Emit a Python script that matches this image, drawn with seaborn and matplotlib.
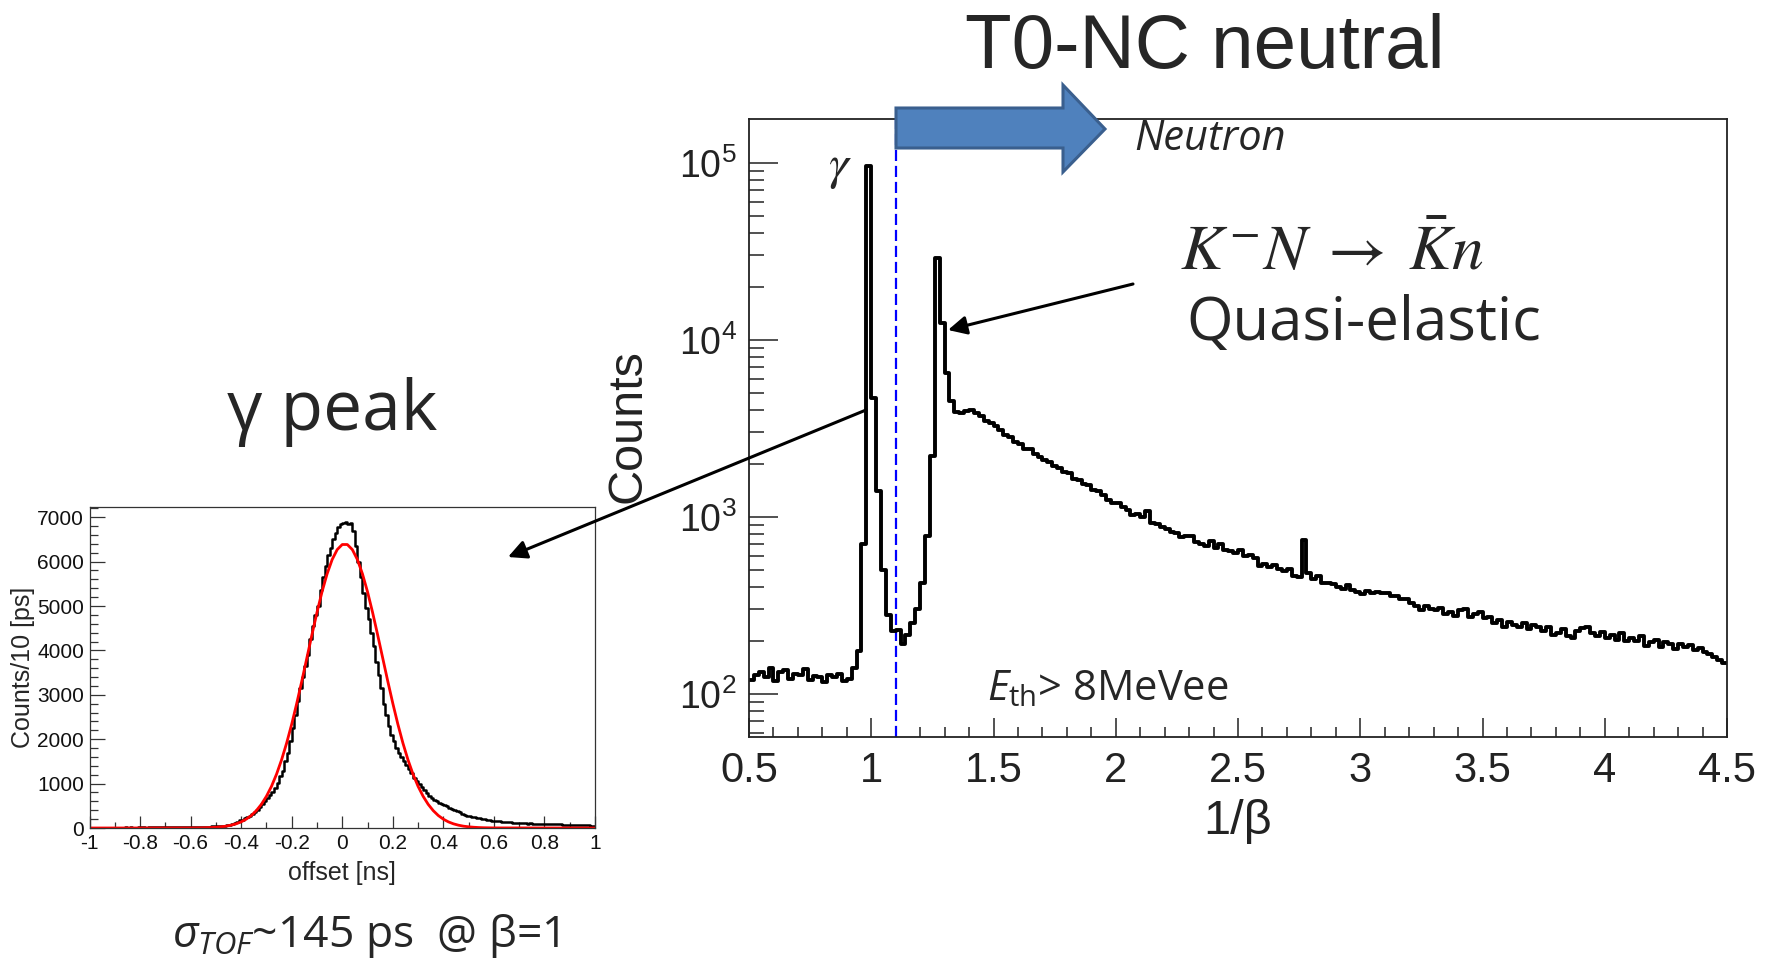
import numpy as np
import pandas as pd
import matplotlib
matplotlib.use("Agg")
import matplotlib.pyplot as plt
import seaborn as sns
from matplotlib.patches import Polygon
from matplotlib.ticker import MultipleLocator, LogLocator, NullFormatter, FuncFormatter

# ---------------- data ----------------
# 1/beta histogram (T0-NC neutral), bins of 0.02 from 0.5 to 4.5
inv_beta_range = (0.5, 4.5)
inv_beta_counts = [
    120, 128, 132, 125, 140, 118, 132, 136, 122, 130,
    128, 138, 120, 126, 124, 116, 128, 124, 130, 118,
    122, 140, 175, 700, 96000, 4700, 1400, 500, 280, 225,
    230, 190, 215, 250, 300, 420, 780, 2200, 29000, 12500,
    6500, 4500, 3900, 3850, 3950, 4000, 3850, 3700, 3500, 3400,
    3250, 3080, 2900, 2830, 2650, 2580, 2430, 2420, 2250, 2180,
    2100, 2030, 1930, 1880, 1790, 1770, 1640, 1620, 1530, 1520,
    1420, 1400, 1330, 1250, 1200, 1190, 1140, 1090, 1030, 1040,
    995, 1080, 925, 910, 880, 855, 820, 815, 770, 775,
    775, 725, 705, 680, 730, 665, 700, 650, 645, 625,
    648, 600, 608, 585, 530, 540, 520, 535, 510, 495,
    505, 465, 455, 740, 480, 445, 462, 425, 425, 418,
    400, 392, 412, 384, 376, 365, 382, 370, 376, 370,
    372, 356, 358, 342, 344, 326, 314, 298, 312, 300,
    298, 306, 282, 290, 276, 296, 300, 270, 282, 288,
    268, 272, 250, 262, 240, 255, 244, 238, 250, 232,
    246, 238, 226, 240, 214, 222, 232, 212, 208, 226,
    234, 238, 222, 212, 224, 206, 214, 202, 220, 198,
    206, 198, 212, 186, 196, 202, 184, 196, 190, 178,
    190, 184, 188, 176, 182, 172, 168, 162, 156, 150,
]
beta_cut = 1.1

# gamma-peak offset histogram, bins of 10 ps from -1 to 1 ns
offset_range = (-1.0, 1.0)
offset_counts = [
    5, 8, 6, 4, 7, 9, 6, 8, 5, 10,
    8, 11, 7, 9, 12, 10, 13, 9, 11, 14,
    12, 15, 11, 14, 16, 13, 17, 15, 18, 14,
    18, 16, 20, 17, 22, 19, 21, 24, 20, 23,
    25, 22, 27, 26, 30, 28, 32, 30, 34, 36,
    40, 45, 50, 55, 65, 75, 95, 115, 140, 170,
    190, 215, 240, 275, 310, 360, 410, 470, 540, 610,
    680, 740, 820, 910, 1020, 1160, 1290, 1500, 1700, 1950,
    2250, 2550, 2850, 3150, 3400, 3650, 3900, 4250, 4550, 4800,
    5000, 5350, 5650, 5900, 6150, 6300, 6500, 6650, 6780, 6850,
    6880, 6900, 6850, 6870, 6700, 6350, 6000, 5650, 5300, 4950,
    4700, 4400, 4100, 3750, 3450, 3150, 2800, 2550, 2300, 2100,
    1950, 1800, 1700, 1600, 1500, 1420, 1330, 1230, 1130, 1060,
    1000, 920, 850, 790, 720, 675, 640, 600, 570, 540,
    520, 490, 460, 430, 400, 375, 350, 320, 300, 280,
    265, 250, 240, 225, 215, 205, 195, 185, 175, 168,
    160, 155, 148, 140, 135, 130, 125, 120, 115, 112,
    108, 110, 105, 100, 102, 98, 96, 100, 95, 92,
    95, 90, 88, 85, 82, 85, 80, 78, 75, 78,
    72, 75, 70, 68, 65, 62, 60, 58, 55, 52,
]

# red fit curve
fit_x = [-1.0] + [round(v, 2) for v in np.linspace(-0.6, 0.6, 61)] + [1.0]
fit_y = [0,
         1, 2, 4, 6, 10, 17, 27, 41, 63, 94,
         138, 199, 281, 391, 533, 714, 938, 1212, 1537, 1913,
         2339, 2808, 3309, 3830, 4351, 4856, 5320, 5723, 6045, 6270,
         6385,
         6385, 6270, 6045, 5723, 5320, 4856, 4351, 3830, 3309, 2808,
         2339, 1913, 1537, 1212, 938, 714, 533, 391, 281, 199,
         138, 94, 63, 41, 27, 17, 10, 6, 4, 2,
         0]

# ---------------- style ----------------
sns.set_theme(style="ticks")
plt.rcParams['font.family'] = ['Liberation Sans', 'DejaVu Sans']
plt.rcParams['axes.unicode_minus'] = False
plt.rcParams['mathtext.fontset'] = 'custom'
plt.rcParams['mathtext.rm'] = 'Open Sans'
plt.rcParams['mathtext.it'] = 'Open Sans:italic'
plt.rcParams['mathtext.bf'] = 'Open Sans:bold'

W, H = 1773, 960
fig = plt.figure(figsize=(W / 100, H / 100), dpi=100)
fig.patch.set_facecolor('white')


def frac(l, t, r, b):
    return [l / W, 1 - b / H, (r - l) / W, (b - t) / H]


gfmt = FuncFormatter(lambda v, p: '{:g}'.format(round(v, 2) + 0.0))

# ---------------- right panel ----------------
axR = fig.add_axes(frac(749, 119, 1727, 737))
nR = len(inv_beta_counts)
edgesR = np.linspace(inv_beta_range[0], inv_beta_range[1], nR + 1)
dfR = pd.DataFrame({'x': 0.5 * (edgesR[:-1] + edgesR[1:]),
                    'w': np.asarray(inv_beta_counts, dtype=float)})
sns.histplot(data=dfR, x='x', weights='w', bins=nR, binrange=inv_beta_range,
             element='step', fill=False, color='black', linewidth=2.8, ax=axR)
axR.set_yscale('log')
axR.set_xlim(*inv_beta_range)
axR.set_ylim(57, 177000)
axR.axvline(beta_cut, color='#0000FF', linestyle=(0, (5, 2.2)), linewidth=1.6, zorder=1)
axR.yaxis.set_major_locator(LogLocator(base=10, numticks=10))
axR.yaxis.set_minor_locator(LogLocator(base=10, subs=np.arange(2, 10), numticks=20))
axR.yaxis.set_minor_formatter(NullFormatter())
axR.xaxis.set_major_locator(MultipleLocator(0.5))
axR.xaxis.set_minor_locator(MultipleLocator(0.1))
axR.xaxis.set_major_formatter(gfmt)
axR.tick_params(axis='y', which='major', direction='in', length=21, width=1.1,
                labelsize=27, pad=9, colors='#222222', labelcolor='#222222')
axR.tick_params(axis='y', which='minor', direction='in', length=10.5, width=1.1, color='#222222')
axR.tick_params(axis='x', which='major', direction='in', length=14, width=1.1,
                labelsize=30, pad=10, color='#222222', labelcolor='#222222')
axR.tick_params(axis='x', which='minor', direction='in', length=7, width=1.1, color='#222222')
for s in axR.spines.values():
    s.set_linewidth(1.3)
    s.set_color('#222222')
axR.set_ylabel('Counts', fontsize=35, va='center', ha='center', color='#222222')
axR.yaxis.set_label_coords(-0.124, 0.503)
axR.set_xlabel('1/β', fontsize=35, va='center', ha='center', color='#222222')
axR.xaxis.set_label_coords(0.5, -0.1375)

# ---------------- left panel ----------------
axL = fig.add_axes(frac(89.5, 507, 595, 828))
nL = len(offset_counts)
edgesL = np.linspace(offset_range[0], offset_range[1], nL + 1)
dfL = pd.DataFrame({'x': 0.5 * (edgesL[:-1] + edgesL[1:]),
                    'w': np.asarray(offset_counts, dtype=float)})
sns.histplot(data=dfL, x='x', weights='w', bins=nL, binrange=offset_range,
             element='step', fill=False, color='black', linewidth=1.8, ax=axL)
dfFit = pd.DataFrame({'x': fit_x, 'y': fit_y})
sns.lineplot(data=dfFit, x='x', y='y', color='#FF0000', linewidth=2.0, ax=axL)
axL.set_xlim(*offset_range)
axL.set_ylim(0, 7230)
axL.xaxis.set_major_locator(MultipleLocator(0.2))
axL.xaxis.set_minor_locator(MultipleLocator(0.1))
axL.xaxis.set_major_formatter(gfmt)
axL.yaxis.set_major_locator(MultipleLocator(1000))
axL.yaxis.set_minor_locator(MultipleLocator(200))
axL.tick_params(axis='both', which='major', direction='in', labelsize=15, width=0.9,
                color='#333333', labelcolor='#111111')
axL.tick_params(axis='y', which='major', length=11, pad=4)
axL.tick_params(axis='y', which='minor', direction='in', length=5.5, width=0.9, color='#333333')
axL.tick_params(axis='x', which='major', length=9, pad=4)
axL.tick_params(axis='x', which='minor', direction='in', length=4.5, width=0.9, color='#333333')
for s in axL.spines.values():
    s.set_linewidth(0.9)
    s.set_color('#333333')
axL.set_ylabel('Counts/10 [ps]', fontsize=18, va='center', ha='center')
axL.yaxis.set_label_coords(-0.1316, 0.5016)
axL.set_xlabel('offset [ns]', fontsize=18, va='center', ha='center')
axL.xaxis.set_label_coords(0.4995, -0.14)

# ---------------- overlay annotations (pixel coordinates) ----------------
ov = fig.add_axes([0, 0, 1, 1], zorder=10)
ov.set_xlim(0, W)
ov.set_ylim(H, 0)
ov.set_axis_off()

ov.text(1205, 68, 'T0-NC neutral', fontsize=55, ha='center', va='baseline',
        family=['Liberation Sans'])

sans = ['Open Sans', 'DejaVu Sans']
ov.text(332, 430, 'γ peak', fontsize=50, ha='center', va='baseline', family=sans)
ov.text(172, 947, r'$\sigma_{TOF}$~145 ps  @ β=1', fontsize=32, ha='left',
        va='baseline', family=sans)
ov.text(987, 700, r'$E_{\mathrm{th}}$> 8MeVee', fontsize=30, ha='left',
        va='baseline', family=sans)
ov.text(1186, 340, 'Quasi-elastic', fontsize=43, ha='left', va='baseline', family=sans)
ov.text(1180, 270, r'$K^{-}N\;\rightarrow\;\bar{K}n$', fontsize=46, ha='left',
        va='baseline', math_fontfamily='stix')
ov.text(1210, 150, 'Neutron', fontsize=30, ha='center', va='baseline',
        family=sans, style='italic')
ov.text(840, 168, r'$\gamma$', fontsize=36, ha='center', va='center',
        math_fontfamily='stix')

# blue block arrow
arrow_pts = [(896, 108), (1063, 108), (1063, 85), (1105, 129),
             (1063, 172), (1063, 148), (896, 148)]
ov.add_patch(Polygon(arrow_pts, closed=True, facecolor='#4F81BD',
                     edgecolor='#3A5F8E', linewidth=2.2, joinstyle='miter'))

# black pointer arrows
ap = dict(arrowstyle='-|>', color='black', lw=2.2, mutation_scale=28,
          shrinkA=0, shrinkB=0)
ov.annotate('', xy=(948, 330), xytext=(1133, 284), arrowprops=ap)
ov.annotate('', xy=(508, 557), xytext=(866, 410), arrowprops=ap)

fig.savefig('out.png', dpi=100, facecolor='white')
